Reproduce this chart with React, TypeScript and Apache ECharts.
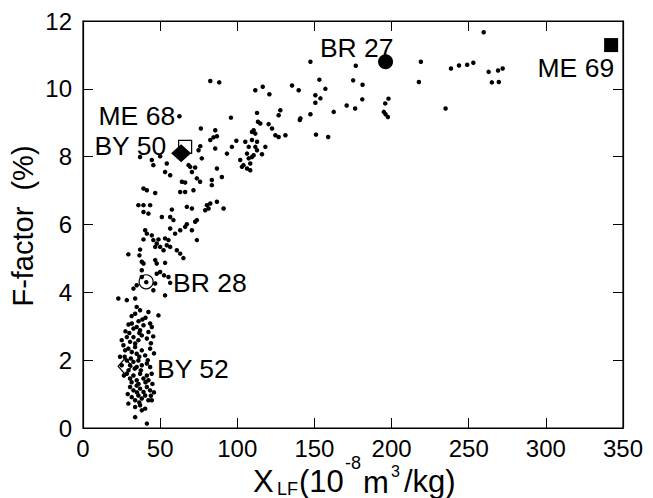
import React, { useEffect, useRef } from "react";
import * as echarts from "echarts";

const dots: [number, number][] = [
  [219, 10.8], [217.7, 10.2], [235, 9.42], [238.5, 10.6], [243.7, 10.69], [249, 10.71], [253, 10.77],
  [262.9, 10.5], [269, 10.54], [272, 10.6], [265, 10.19], [269.5, 10.2], [259.7, 11.67],
  [147.4, 10.8], [176.8, 10.68], [153.2, 10.27], [175.1, 10.25], [181.2, 10.12], [111.7, 9.96],
  [116.5, 10.06], [120.8, 9.84], [135.5, 10.1], [139.8, 9.96], [150.6, 9.81], [153.9, 9.72], [157.1, 10.0],
  [150.6, 9.59], [181, 9.69], [176.4, 9.42], [170.9, 9.51], [162.5, 9.32], [147.4, 9.25], [140.5, 9.08],
  [140.9, 9.13], [151, 8.65], [158.9, 8.58], [195.9, 9.57], [198, 9.71], [195, 9.32], [196.1, 9.25], [197.6, 9.17],
  [112.8, 9.29], [113.4, 9.03], [114.9, 8.98], [126.8, 9.22], [127.9, 9.37], [120.3, 8.96], [122.5, 8.83],
  [124.7, 8.63], [126.8, 8.58], [131.2, 8.63], [110.6, 8.78], [111.7, 8.68], [109.5, 8.49], [112.8, 8.44],
  [118.2, 8.29], [116, 8.07], [82.5, 10.23], [88.3, 10.19], [62.5, 9.19], [95.9, 9.15], [76.4, 8.83],
  [85.7, 8.78], [84.6, 8.57], [86.8, 8.6], [82.5, 8.49], [99.4, 8.47], [96.5, 8.29], [105.2, 8.44],
  [76, 8.31], [74.9, 8.19], [85.7, 8.24], [106.3, 8.09], [107.4, 7.95], [37, 7.99], [50, 8.01],
  [107.4, 8.29], [109.5, 8.73], [111.7, 8.29], [112.8, 8.19], [93.3, 8.09], [101.9, 7.9], [103, 7.7],
  [106.3, 7.65], [108.4, 7.8], [109.5, 7.99], [104, 7.75], [108.4, 7.6], [110.6, 8.04],
  [44.6, 7.9], [45.6, 7.75], [54.3, 7.8], [53.2, 7.55], [56.5, 7.45], [69.5, 7.7], [70.6, 7.55], [77, 7.95],
  [86.8, 7.65], [90, 7.4], [83.5, 7.31], [83.5, 7.16], [75.9, 7.26], [71.6, 7.01], [64.1, 7.26], [66.2, 6.96],
  [63, 6.96], [39.2, 7.06], [41.4, 7.01], [46.8, 6.93], [35.9, 6.57], [39.2, 6.57], [43.5, 6.57], [39.2, 6.37],
  [42.4, 6.32], [51.1, 6.22], [56.5, 6.22], [70.6, 6.47], [80.3, 6.57], [81.4, 6.47], [86.8, 6.67], [91.1, 6.47],
  [58.6, 6.13], [63, 5.83], [66.2, 5.93], [40.3, 5.83], [41.4, 5.73], [45.6, 5.54], [47.8, 5.44], [50, 5.34],
  [53.2, 5.59], [56.5, 5.34], [73.8, 5.54], [70.6, 5.83], [73.8, 6.13],
  [68.4, 7.75], [72.7, 7.68], [73.8, 7.36], [66.2, 7.24], [57.6, 6.44], [67.3, 6.52], [82.5, 6.62], [79.2, 6.42],
  [72.7, 6.08], [67.3, 6.01], [59.7, 5.73], [56.5, 5.88], [39.2, 5.56], [44.6, 5.68], [48.9, 5.56], [55.4, 5.54],
  [54.3, 5.39], [52.2, 5.24], [60.8, 5.24], [63, 5.14], [65.1, 5.01], [46.8, 5.34], [37, 5.26], [36.6, 5.09],
  [29.4, 5.12], [46.8, 4.95], [47.8, 4.85], [53.2, 4.87], [38.1, 4.65], [38.1, 4.9], [50, 4.6], [55.4, 4.45],
  [39.2, 4.85], [52.5, 4.5], [47.8, 4.55], [38.1, 4.45], [34.8, 4.21], [32.7, 4.11], [46.8, 4.26], [45.6, 4.06],
  [56.5, 4.28], [53.2, 3.91], [22.9, 3.82], [28.4, 3.77], [33.8, 3.82], [48.9, 3.32], [42.4, 3.42], [34.8, 3.57],
  [37, 3.47], [33.8, 3.37], [41, 4.3],
  [31.6, 3.08], [32.7, 2.93], [34.8, 2.98], [37, 2.88], [39.2, 3.03], [43.5, 3.08], [44.6, 2.98], [42.4, 2.83],
  [25.1, 2.59], [26.2, 2.44], [28.4, 2.68], [30.5, 2.54], [32.7, 2.68], [33.8, 2.49], [35.9, 2.59], [38.1, 2.73],
  [41.4, 2.64], [27.3, 2.29], [29.4, 2.34], [31.6, 2.24], [33.8, 2.39], [34.8, 2.19], [38.1, 2.29], [40.3, 2.14],
  [43.5, 2.34], [25.1, 1.85], [28.4, 1.99], [30.5, 1.85], [32.7, 1.95], [34.8, 1.8], [35.9, 1.99], [38.1, 1.85],
  [41.4, 1.9], [43.5, 1.8], [28.4, 1.6], [30.5, 1.46], [32.7, 1.55], [34.8, 1.41], [37, 1.6], [39.2, 1.46],
  [41.4, 1.55], [42.4, 1.41], [30.5, 1.21], [32.7, 1.11], [34.8, 1.25], [37, 1.16], [39.2, 1.06], [41.4, 1.21],
  [43.5, 1.11], [31.6, 0.91], [33.8, 0.82], [35.9, 0.96], [38.1, 0.87], [40.3, 0.96], [42.4, 0.82],
  [33.8, 0.62], [37, 0.67], [38.1, 0.52], [40.3, 0.57], [33.8, 0.32], [41.4, 0.13], [29.4, 0.72], [44.6, 0.82],
  [29.5, 3.05], [36, 3.15], [40.5, 3.25], [30, 2.8], [36.5, 2.8], [45.5, 2.7], [27, 2.1], [31, 2.05],
  [36.5, 2.1], [42, 2.0], [29.5, 1.7], [33.5, 1.75], [37.5, 1.7], [44.5, 1.6], [26.5, 1.55], [31.5, 1.35],
  [36, 1.3], [40.5, 1.35], [45, 1.3], [29, 1.0], [35, 1.05], [44, 0.95], [36.5, 0.75], [46, 1.05],
  [31.5, 3.3], [38.5, 3.2], [27.5, 2.85], [44, 2.5], [24, 2.1], [46, 2.2],
];

const sampleNames = ["BR 27", "ME 69", "ME 68", "BY 50", "BR 28", "BY 52"];
const sampleX = [196.1, 342.3, 66.2, 63.6, 40.9, 27.3];
const sampleY = [10.8, 11.29, 8.29, 8.1, 4.31, 1.82];

const xMin = 0, xMax = 350, xStep = 50;
const yMin = 0, yMax = 12, yStep = 2;

const FONT = "'Liberation Sans', Arial, Helvetica, sans-serif";

// marker styles: symbol, size, filled, label align, label offset
const sampleStyles: any[] = [
  { symbol: "circle", size: 15, filled: true, align: "right", offset: [8, -14] },
  { symbol: "rect", size: 14, filled: true, align: "right", offset: [3, 23] },
  { symbol: "rect", size: 13, filled: false, align: "right", offset: [-10, -31] },
  { symbol: "diamond", size: [20, 18], filled: true, align: "right", offset: [-15, -7] },
  { symbol: "circle", size: 14, filled: false, align: "left", offset: [27, 1] },
  { symbol: "diamond", size: [14, 16], filled: false, align: "left", offset: [32, 3] },
];

export default function App() {
  const ref = useRef<HTMLDivElement>(null);
  useEffect(() => {
    if (!ref.current) return;
    const chart = echarts.init(ref.current, undefined, { renderer: "svg" });
    const axisCommon = {
      type: "value" as const,
      splitLine: { show: false },
      axisLine: { show: true, onZero: false, lineStyle: { color: "#000", width: 1.2 } },
      axisTick: { show: true, inside: true, length: 10, lineStyle: { color: "#000", width: 1 } },
    };
    const sampleSeries = sampleNames.map((name, i) => {
      const st = sampleStyles[i];
      return {
        type: "scatter",
        name,
        data: [[sampleX[i], sampleY[i]]],
        symbol: st.symbol,
        symbolSize: st.size,
        z: st.filled ? 4 : 1,
        itemStyle: st.filled
          ? { color: "#000", opacity: 1 }
          : { color: "#fff", borderColor: "#000", borderWidth: 1.2, opacity: 1 },
        label: {
          show: true,
          formatter: name,
          position: "inside",
          align: st.align,
          verticalAlign: "middle",
          offset: st.offset,
          fontSize: 26.5,
          lineHeight: 22,
          fontFamily: FONT,
          color: "#000",
          opacity: 1,
          textBorderWidth: 0,
          textBorderColor: "transparent",
        },
      };
    });
    const txt = (x: number, y: number, text: string, size: number) => ({
      type: "text",
      x,
      y,
      style: { text, font: `${size}px ${FONT}`, fill: "#000", align: "left", verticalAlign: "middle" },
    });
    chart.setOption({
      animation: false,
      backgroundColor: "#fff",
      grid: { left: 83, right: 30, top: 21, bottom: 70, show: true, borderColor: "#000", borderWidth: 1.2 },
      xAxis: [
        {
          ...axisCommon,
          min: xMin, max: xMax, interval: xStep, position: "bottom",
          axisLabel: { fontSize: 24, lineHeight: 18, color: "#000", margin: 11, fontFamily: FONT },
        },
        {
          ...axisCommon,
          min: xMin, max: xMax, interval: xStep, position: "top",
          axisLabel: { show: false },
        },
      ],
      yAxis: [
        {
          ...axisCommon,
          min: yMin, max: yMax, interval: yStep, position: "left",
          axisLabel: { fontSize: 24, color: "#000", margin: 11, fontFamily: FONT },
        },
        {
          ...axisCommon,
          min: yMin, max: yMax, interval: yStep, position: "right",
          axisLabel: { show: false },
        },
      ],
      series: [
        {
          type: "scatter",
          data: dots,
          symbol: "circle",
          symbolSize: 4.5,
          itemStyle: { color: "#000", opacity: 1 },
          z: 2,
        },
        ...sampleSeries,
      ],
      graphic: [
        {
          type: "text", x: 23, y: 226, rotation: Math.PI / 2,
          style: { text: "F-factor  (%)", font: `29px ${FONT}`, fill: "#000", align: "center", verticalAlign: "middle" },
        },
        txt(253, 481, "X", 31),
        txt(277, 489, "LF", 18),
        txt(299, 481, "(10", 31),
        txt(345, 463, "-8", 18),
        txt(363, 482, "m", 31),
        txt(391, 471, "3", 16),
        txt(404, 481, "/kg)", 31),
      ],
    });
    return () => chart.dispose();
  }, []);
  return (
    <div
      ref={ref}
      style={{ position: "fixed", left: 0, top: 0, width: 653, height: 498, background: "#fff" }}
    />
  );
}
